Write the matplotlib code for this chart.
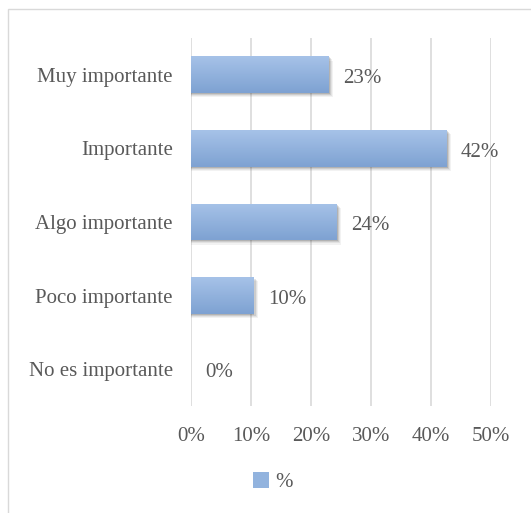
import numpy as np
import matplotlib
matplotlib.use('Agg')
import matplotlib.pyplot as plt
from matplotlib.patches import Rectangle
from matplotlib.colors import LinearSegmentedColormap

# data (top to bottom)
categories = ['Muy importante', 'Importante', 'Algo importante', 'Poco importante', 'No es importante']
values = [23.0, 42.6, 24.3, 10.4, 0.0]
value_labels = ['23%', '42%', '24%', '10%', '0%']
x_ticks = [0, 10, 20, 30, 40, 50]
x_tick_labels = ['0%', '10%', '20%', '30%', '40%', '50%']
series_name = '%'

plt.rcParams['font.family'] = ['Liberation Serif', 'DejaVu Serif']
text_color = '#595959'

fig = plt.figure(figsize=(5.31, 5.13), dpi=100)
ax = fig.add_axes([191 / 531, 1 - 406 / 513, 300 / 531, 368 / 513])

# chart border (only top and left visible in the crop)
fig.patches.append(Rectangle((8 / 531, -0.1), 1.2, 1 - 9 / 513 + 0.1, transform=fig.transFigure,
                             fill=False, edgecolor='#d9d9d9', linewidth=1.0))

y = np.arange(len(categories))
bar_h = 0.5

# blurred shadow, a bit down and to the right
for yi, v in zip(y, values):
    if v > 0:
        for k, a in [(1.6, 0.06), (1.2, 0.08), (0.8, 0.12), (0.4, 0.16)]:
            ax.add_patch(Rectangle((0, yi - bar_h / 2 + 0.035 * k), v + 0.45 * k, bar_h,
                                   facecolor='#303030', alpha=a, edgecolor='none', zorder=2))

bars = ax.barh(y, values, height=bar_h, color='#92b3de', zorder=3)

grad = LinearSegmentedColormap.from_list('g', ['#a6c2e8', '#7ea2d2'])
for b in bars:
    x0, y0 = b.get_x(), b.get_y()
    w, h = b.get_width(), b.get_height()
    if w <= 0:
        continue
    im = ax.imshow(np.linspace(0, 1, 50).reshape(-1, 1), cmap=grad, aspect='auto',
                   extent=(x0, x0 + w, y0 + h, y0), origin='upper', zorder=4)
    im.set_clip_path(b)

for yi, v, lab in zip(y, values, value_labels):
    ax.text(v + 2.4, yi + 0.05, lab, va='center', ha='left', fontsize=15, color=text_color, zorder=5)

ax.set_xlim(0, 50)
ax.set_ylim(len(categories) - 0.5, -0.5)
ax.set_yticks(y)
ax.set_yticklabels(categories, fontsize=15, color=text_color)
ax.set_xticks(x_ticks)
ax.set_xticklabels(x_tick_labels, fontsize=15, color=text_color)
ax.tick_params(axis='both', length=0)
ax.tick_params(axis='y', pad=13)
ax.tick_params(axis='x', pad=15)
ax.grid(axis='x', color='#d9d9d9', linewidth=1.2, zorder=0)
ax.set_axisbelow(True)
for s in ax.spines.values():
    s.set_visible(False)

handle = Rectangle((0, 0), 1, 1, facecolor='#92b3de', edgecolor='none')
fig.legend([handle], [series_name], loc='center', bbox_to_anchor=(273 / 531, 1 - 482 / 513),
           frameon=False, fontsize=15, labelcolor=text_color, handlelength=0.8, handleheight=0.8,
           handletextpad=0.3)

fig.savefig('out.png', dpi=100, facecolor='white')
